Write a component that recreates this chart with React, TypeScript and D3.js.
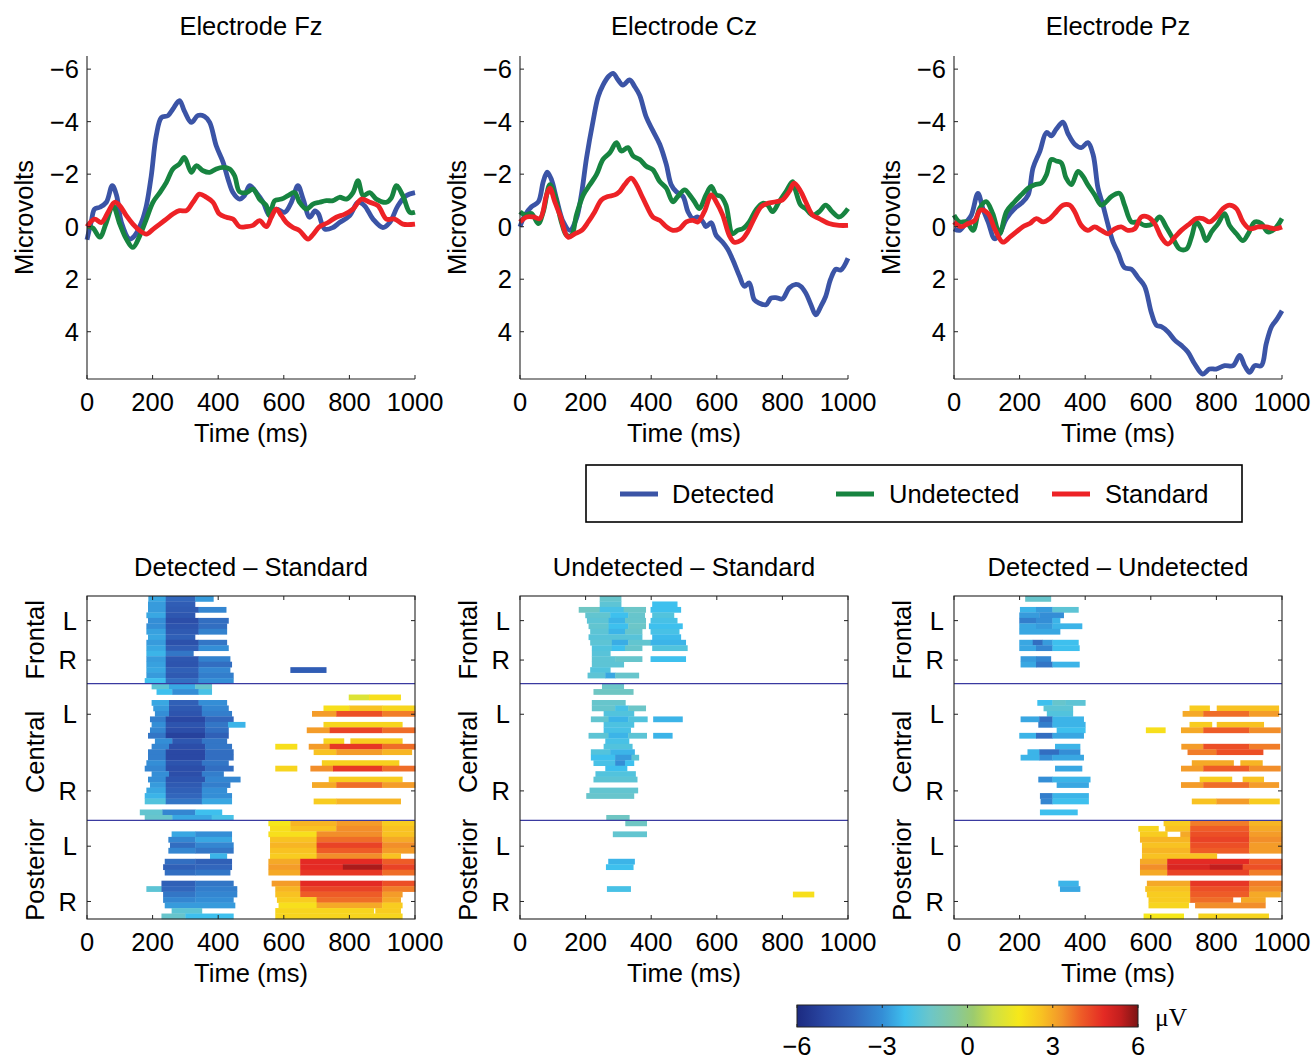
import React from "react";
import * as d3 from "d3";

type Pt = [number, number];
type Seg = [number, number, number];

// ---------- labels / ticks ----------
const TIME_TICKS = [0, 200, 400, 600, 800, 1000];
const UV_TICKS = [-6, -4, -2, 0, 2, 4];
const ELECTRODE_TITLES = ["Electrode Fz", "Electrode Cz", "Electrode Pz"];
const CONDITIONS = ["Detected", "Undetected", "Standard"];
const DIFF_TITLES = ["Detected – Standard", "Undetected – Standard", "Detected – Undetected"];
const REGIONS = ["Frontal", "Central", "Posterior"];
const REGION_ROWS = [16, 25, 18];
const SIDE_TICK_ROWS = [4.5, 11.7, 21.6, 35.6, 45.7, 55.8];
const SIDE_TICK_LABELS = ["L", "R", "L", "R", "L", "R"];
const CBAR_TICKS = [-6, -3, 0, 3, 6];

// ---------- ERP waveforms: [ms, µV] ----------
const FZ_DETECTED: Pt[] = [[0,0.5],[13,-0.2],[23,-0.67],[39,-0.74],[59,-0.93],[77,-1.56],[90,-1.2],[105,-0.16],[130,0.47],[145,0.35],[166,-0.16],[181,-0.8],[196,-1.94],[211,-3.46],[227,-4.16],[247,-4.23],[262,-4.48],[282,-4.8],[297,-4.4],[318,-3.97],[338,-4.23],[358,-4.2],[374,-3.97],[394,-3.08],[415,-2.45],[430,-1.81],[445,-1.3],[465,-1.05],[480,-1.18],[496,-1.56],[516,-1.3],[537,-0.93],[557,-0.42],[577,-0.67],[603,-0.55],[623,-0.93],[643,-1.56],[659,-1.05],[679,-0.36],[695,-0.6],[705,-0.5],[725,0.09],[750,0.03],[770,-0.16],[801,-0.42],[826,-0.93],[846,-0.8],[872,-0.29],[902,0.03],[923,-0.16],[948,-0.8],[973,-1.18],[1000,-1.3]];
const FZ_UNDETECTED: Pt[] = [[0,0],[18,0.05],[39,0.4],[59,-0.16],[79,-0.8],[100,-0.1],[120,0.47],[140,0.79],[161,0.34],[181,-0.29],[201,-0.93],[222,-1.3],[242,-1.69],[262,-2.2],[282,-2.39],[297,-2.64],[318,-2.07],[333,-2.32],[354,-2.13],[374,-2.07],[394,-2.2],[415,-2.26],[435,-2.2],[450,-1.94],[465,-1.33],[486,-1.3],[506,-1.43],[526,-1.05],[547,-0.8],[557,-0.42],[572,-0.99],[593,-1.05],[613,-1.18],[633,-1.3],[648,-0.93],[669,-0.67],[689,-0.86],[709,-0.93],[730,-0.99],[750,-0.99],[770,-1.12],[791,-1.05],[811,-1.3],[826,-1.75],[842,-1.18],[862,-1.3],[882,-1.05],[913,-0.93],[928,-1.1],[943,-1.56],[963,-1.18],[984,-0.55],[1000,-0.55]];
const FZ_STANDARD: Pt[] = [[0,0],[23,-0.29],[44,-0.16],[64,-0.55],[84,-0.93],[100,-0.8],[120,-0.42],[140,-0.1],[161,0.15],[181,0.28],[201,0.1],[222,-0.1],[242,-0.29],[262,-0.48],[282,-0.61],[303,-0.61],[323,-0.93],[343,-1.24],[364,-1.12],[384,-0.93],[404,-0.48],[425,-0.36],[445,-0.29],[465,0],[486,0],[506,-0.05],[526,-0.23],[547,0],[562,-0.36],[577,-0.67],[593,-0.42],[608,-0.16],[628,0.03],[648,0.15],[674,0.47],[689,0.3],[709,0],[735,-0.16],[760,-0.36],[786,-0.48],[811,-0.67],[837,-1.05],[862,-0.93],[887,-0.8],[913,-0.29],[938,-0.29],[963,-0.1],[1000,-0.1]];

const CZ_DETECTED: Pt[] = [[0,0],[15,-0.44],[35,-0.76],[56,-0.95],[71,-1.72],[83,-2.08],[96,-1.79],[111,-1.08],[132,-0.18],[152,0.14],[172,-0.31],[187,-1.21],[203,-2.63],[223,-4.04],[238,-4.94],[253,-5.39],[269,-5.71],[284,-5.84],[299,-5.59],[314,-5.39],[334,-5.59],[350,-5.33],[365,-5.0],[385,-4.17],[405,-3.66],[426,-3.14],[446,-2.37],[461,-1.6],[476,-1.34],[497,-1.15],[512,-0.57],[527,-0.31],[542,-0.37],[558,-0.18],[567,0],[583,-0.15],[598,0.33],[618,0.59],[633,0.85],[648,1.24],[669,1.88],[684,2.27],[699,2.14],[714,2.78],[729,2.91],[750,2.97],[765,2.72],[780,2.7],[800,2.75],[821,2.33],[841,2.2],[856,2.27],[871,2.52],[887,2.97],[902,3.36],[917,3.04],[932,2.65],[947,2.0],[963,1.62],[978,1.65],[1000,1.2]];
const CZ_UNDETECTED: Pt[] = [[0,-0.57],[15,-0.45],[35,-0.5],[56,-0.12],[71,-0.57],[91,-1.6],[106,-1.21],[126,-0.18],[142,0.33],[157,0.33],[172,-0.44],[193,-1.21],[213,-1.6],[233,-1.98],[253,-2.56],[274,-2.82],[294,-3.2],[309,-2.88],[329,-3.01],[345,-2.69],[365,-2.56],[385,-2.3],[405,-2.17],[426,-1.72],[446,-1.47],[466,-0.95],[481,-1.15],[502,-1.4],[517,-1.21],[532,-0.95],[547,-0.69],[567,-1.21],[583,-1.53],[598,-1.21],[613,-1.15],[628,-0.82],[648,0.27],[663,0.14],[679,0.08],[699,-0.18],[719,-0.63],[740,-0.89],[755,-0.82],[770,-0.57],[790,-0.95],[811,-1.34],[831,-1.72],[841,-1.34],[856,-0.82],[871,-0.69],[892,-0.44],[912,-0.57],[932,-0.82],[952,-0.57],[973,-0.37],[1000,-0.69]];
const CZ_STANDARD: Pt[] = [[0,-0.18],[20,-0.37],[41,-0.37],[61,-0.31],[81,-1.21],[91,-1.47],[106,-0.95],[122,-0.44],[147,0.4],[167,0.27],[188,0.14],[208,-0.18],[228,-0.57],[248,-1.02],[268,-1.15],[289,-1.21],[304,-1.34],[319,-1.6],[339,-1.85],[355,-1.6],[370,-1.21],[390,-0.69],[405,-0.37],[426,-0.24],[446,0],[466,0.14],[486,0.08],[507,-0.18],[527,-0.24],[542,-0.18],[562,-0.57],[583,-1.21],[598,-0.95],[618,-0.44],[638,0.33],[653,0.59],[674,0.52],[694,0.2],[714,-0.31],[735,-0.76],[755,-0.89],[780,-0.95],[800,-1.02],[821,-1.34],[836,-1.66],[856,-1.34],[871,-0.95],[892,-0.44],[912,-0.31],[942,-0.12],[973,-0.05],[1000,-0.05]];

const PZ_DETECTED: Pt[] = [[0,0.08],[17,0.14],[38,-0.18],[53,-0.44],[73,-1.27],[88,-0.69],[104,-0.18],[124,0.46],[139,0.27],[160,-0.31],[185,-0.69],[205,-0.89],[226,-1.21],[241,-2.24],[262,-2.88],[282,-3.59],[297,-3.46],[312,-3.72],[332,-3.98],[348,-3.53],[368,-3.14],[388,-3.01],[408,-3.2],[424,-2.75],[439,-1.47],[454,-0.82],[470,-0.05],[485,0.59],[500,0.98],[520,1.56],[541,1.62],[561,1.94],[581,2.27],[602,3.29],[617,3.75],[632,3.81],[652,4.0],[673,4.32],[693,4.52],[713,4.77],[734,5.23],[758,5.61],[779,5.42],[799,5.42],[825,5.29],[851,5.29],[871,4.9],[886,5.29],[901,5.55],[917,5.29],[937,5.29],[952,4.45],[968,3.81],[983,3.55],[1000,3.2]];
const PZ_UNDETECTED: Pt[] = [[0,-0.44],[17,-0.18],[38,-0.18],[58,0.14],[78,-0.69],[98,-0.95],[118,-0.5],[139,0.27],[160,-0.57],[185,-0.95],[205,-1.21],[226,-1.47],[246,-1.6],[266,-1.66],[282,-1.98],[297,-2.56],[312,-2.5],[327,-2.43],[342,-1.85],[358,-1.6],[378,-2.11],[393,-1.92],[408,-1.6],[429,-1.21],[449,-0.82],[464,-0.95],[480,-1.15],[505,-1.27],[520,-0.82],[541,-0.18],[561,-0.18],[581,-0.05],[607,-0.12],[627,-0.37],[647,0.01],[668,0.46],[688,0.85],[709,0.85],[724,0.4],[739,-0.18],[754,0.08],[769,0.53],[785,0.2],[805,-0.12],[825,-0.5],[840,-0.05],[861,0.27],[881,0.53],[897,0.27],[917,-0.18],[937,-0.12],[957,0.2],[978,0.08],[1000,-0.31]];
const PZ_STANDARD: Pt[] = [[0,-0.18],[22,0],[43,-0.12],[63,-0.24],[81,-0.63],[104,-0.5],[124,0.08],[149,0.59],[170,0.4],[190,0.2],[210,0],[231,-0.12],[251,-0.31],[272,-0.18],[292,-0.31],[312,-0.57],[332,-0.82],[353,-0.82],[368,-0.57],[388,-0.05],[408,0.14],[429,0.01],[449,0.14],[470,0.27],[490,0.08],[510,0.01],[530,0.14],[551,0.08],[571,-0.37],[591,-0.37],[612,-0.12],[632,0.4],[652,0.66],[673,0.4],[693,0.14],[719,-0.12],[739,-0.31],[759,-0.31],[779,-0.18],[799,-0.37],[820,-0.69],[840,-0.82],[861,-0.69],[881,-0.18],[902,0.08],[927,0.01],[952,0.01],[978,0.08],[1000,0.01]];

// ---------- Significant-difference maps: per channel row, [from ms, to ms, µV] ----------
const DET_STD_ROWS: Seg[][] = [
  [[187,240,-2.6],[240,330,-4.0],[330,385,-2.8]],
  [[186,240,-2.8],[240,329,-4.3]],
  [[186,240,-2.8],[240,340,-4.4],[340,424,-3.2]],
  [[181,240,-2.6],[240,329,-4.5]],
  [[186,240,-3.0],[240,340,-4.8],[340,431,-3.8]],
  [[181,240,-3.0],[240,340,-4.6],[340,426,-3.8]],
  [[181,240,-2.7],[240,340,-4.4],[340,426,-3.3]],
  [[186,240,-2.6],[240,329,-4.2]],
  [[181,240,-2.8],[240,340,-4.7],[340,426,-3.6]],
  [[181,240,-2.6],[240,340,-4.3],[340,431,-3.0]],
  [[181,240,-2.4],[240,324,-3.6]],
  [[181,240,-2.8],[240,340,-4.5],[340,436,-3.3]],
  [[181,240,-2.7],[240,340,-4.6],[340,441,-3.8]],
  [[181,240,-2.6],[240,340,-4.2],[340,436,-3.2],[620,729,-4.3]],
  [[181,240,-2.8],[240,340,-4.4],[340,446,-3.4]],
  [[176,240,-2.2],[240,340,-3.8],[340,446,-3.0]],
  [[197,250,-1.6],[250,330,-2.6],[330,380,-1.4]],
  [[212,260,-2.2],[260,340,-3.0],[340,380,-2.0]],
  [[798,860,1.2],[860,956,2.0]],
  [[197,250,-2.6],[250,340,-4.2],[340,426,-3.0]],
  [[202,250,-2.8],[250,350,-4.4],[350,431,-3.2],[721,800,2.0],[800,900,2.6],[900,1000,2.2]],
  [[207,250,-3.0],[250,350,-4.6],[350,441,-3.4],[686,760,3.2],[760,900,4.2],[900,1000,3.6]],
  [[192,240,-3.4],[240,360,-5.0],[360,446,-4.0]],
  [[197,240,-3.0],[240,360,-4.6],[360,430,-3.6],[430,482,-2.4],[721,961,2.2]],
  [[192,240,-3.2],[240,360,-4.8],[360,431,-3.8],[670,740,3.2],[740,900,4.4],[900,1000,3.8]],
  [[186,240,-3.6],[240,360,-5.2],[360,431,-4.2]],
  [[207,260,-3.0],[260,350,-4.5],[350,426,-3.6],[721,783,2.2],[803,961,2.4]],
  [[197,250,-3.2],[250,360,-4.8],[360,441,-3.6],[574,640,2.0],[676,740,3.2],[740,900,4.6],[900,1000,3.8]],
  [[186,240,-3.4],[240,360,-5.0],[360,446,-3.8],[691,760,2.6],[760,900,3.2],[900,990,2.8]],
  [[186,240,-3.4],[240,360,-5.0],[360,446,-3.8]],
  [[181,240,-3.0],[240,350,-4.6],[350,431,-3.6],[716,951,2.3]],
  [[176,240,-3.2],[240,360,-4.8],[360,446,-3.8],[574,640,2.2],[681,750,3.4],[750,900,4.6],[900,1000,3.8]],
  [[197,250,-3.0],[250,350,-4.8],[350,416,-3.4]],
  [[186,240,-3.0],[240,360,-4.6],[360,467,-3.2],[737,961,2.4]],
  [[192,240,-2.8],[240,350,-4.4],[350,436,-3.4],[686,760,3.0],[760,900,3.8],[900,1000,3.2]],
  [[181,240,-2.6],[240,350,-4.2],[350,426,-3.0]],
  [[176,240,-2.4],[240,350,-4.0],[350,441,-3.0]],
  [[176,240,-1.8],[240,350,-3.6],[350,441,-2.6],[691,760,2.4],[760,956,2.8]],
  [],
  [[161,230,-1.5],[230,330,-3.2],[330,411,-2.2]],
  [[176,260,-1.4],[260,380,-2.6],[380,446,-2.0]],
  [[553,620,1.8],[620,760,2.8],[760,900,3.2],[900,1000,2.4]],
  [[558,620,2.0],[620,760,2.6],[760,900,3.4],[900,1000,2.6]],
  [[258,330,-2.6],[330,441,-3.0],[553,700,2.0],[700,900,3.4],[900,1000,2.6]],
  [[248,330,-3.2],[330,441,-2.6],[558,700,2.6],[700,900,3.8],[900,1000,3.0]],
  [[253,330,-3.8],[330,446,-3.2],[558,700,2.8],[700,900,4.4],[900,1000,3.4]],
  [[248,330,-3.2],[330,446,-3.6],[558,700,2.6],[700,900,4.0],[900,1000,3.2]],
  [[375,426,-2.4],[558,700,2.4],[700,900,3.4],[900,956,2.6]],
  [[237,330,-3.8],[330,441,-4.2],[553,650,3.0],[650,900,4.8],[900,1000,4.0]],
  [[232,330,-4.2],[330,441,-4.0],[553,650,3.2],[650,780,4.8],[780,900,5.6],[900,1000,4.4]],
  [[237,330,-3.8],[330,436,-3.6],[553,650,3.0],[650,900,4.6],[900,1000,3.8]],
  [],
  [[227,330,-4.2],[330,446,-3.6],[563,650,3.2],[650,900,4.8],[900,1000,4.2]],
  [[181,227,-1.6],[227,330,-4.0],[330,457,-3.4],[574,650,2.8],[650,900,4.4],[900,1000,3.6]],
  [[232,330,-3.6],[330,457,-3.2],[574,650,2.6],[650,900,4.0],[900,961,3.2]],
  [[232,330,-3.2],[330,446,-3.0],[579,700,2.4],[700,900,3.8],[900,956,3.0]],
  [[237,451,-2.8],[584,700,2.0],[700,900,3.0],[900,961,2.4]],
  [[258,350,-1.6],[574,874,2.2],[879,956,2.4]],
  [[227,300,-1.4],[300,446,-2.2],[574,961,2.2]],
];

const UND_STD_ROWS: Seg[][] = [
  [[243,308,-1.4]],
  [[243,308,-1.6],[403,479,-2.2]],
  [[179,243,-1.2],[243,316,-2.0],[316,383,-1.3],[398,490,-2.2]],
  [[199,275,-1.5],[275,330,-2.2],[330,380,-1.4],[403,469,-1.8]],
  [[204,270,-1.6],[270,320,-2.4],[320,383,-1.4],[398,479,-2.0]],
  [[209,270,-1.5],[270,330,-2.2],[330,383,-1.3],[393,495,-2.2]],
  [[214,270,-1.6],[270,320,-2.4],[320,372,-1.4],[398,485,-2.0]],
  [[209,372,-1.7],[403,490,-2.3]],
  [[214,280,-1.6],[280,330,-2.5],[330,398,-1.5],[398,505,-2.4]],
  [[219,280,-1.8],[280,320,-2.2],[320,372,-1.4],[403,510,-1.8]],
  [[219,275,-1.7]],
  [[219,290,-1.6],[290,372,-1.4],[398,505,-2.2]],
  [[219,316,-1.6]],
  [[214,275,-1.8]],
  [[206,260,-1.6],[260,290,-2.6],[290,362,-1.4]],
  [],
  [[250,316,-1.3]],
  [[224,345,-1.2]],
  [],
  [[219,321,-1.4]],
  [[219,290,-1.4],[290,330,-2.0],[330,383,-1.3]],
  [[255,347,-1.8]],
  [[216,270,-1.5],[270,330,-2.4],[330,388,-1.8],[406,495,-2.4]],
  [[255,347,-1.9]],
  [[255,337,-2.0]],
  [[209,270,-1.6],[270,330,-2.4],[330,386,-1.6],[406,464,-2.4]],
  [[260,332,-2.0]],
  [[255,342,-1.8]],
  [[216,275,-1.8],[275,349,-2.4]],
  [[216,290,-2.2],[290,340,-2.8],[340,362,-1.6]],
  [[224,290,-2.0],[290,320,-3.0],[320,347,-2.2]],
  [[260,326,-2.2]],
  [[230,352,-1.8]],
  [[224,357,-1.6]],
  [],
  [[212,359,-1.5]],
  [[202,347,-1.4]],
  [],
  [],
  [],
  [[263,333,-1.2]],
  [[321,386,-1.2]],
  [],
  [[283,386,-1.5]],
  [],
  [],
  [],
  [],
  [[269,349,-2.4]],
  [[262,345,-2.2]],
  [],
  [],
  [],
  [[265,337,-2.0]],
  [[832,896,2.0]],
  [],
  [],
  [],
  [],
];

const DET_UND_ROWS: Seg[][] = [
  [[217,295,-1.4]],
  [],
  [[201,250,-2.4],[250,300,-2.8],[300,379,-1.6]],
  [[199,260,-2.8],[260,334,-3.0]],
  [[199,250,-3.4],[250,300,-3.0],[300,323,-2.4]],
  [[199,250,-2.6],[250,300,-2.8],[300,390,-2.4]],
  [[199,323,-2.6]],
  [],
  [[199,240,-2.6],[240,270,-3.8],[270,300,-2.8],[300,379,-2.2]],
  [[199,250,-2.6],[250,300,-3.2],[300,382,-2.2]],
  [],
  [[203,250,-2.8],[250,295,-3.2]],
  [[203,250,-2.6],[250,300,-3.6],[300,382,-2.4]],
  [],
  [],
  [],
  [],
  [],
  [],
  [[254,300,-2.2],[300,340,-1.4],[340,400,-1.6]],
  [[273,362,-1.6],[718,779,2.4],[801,990,2.6]],
  [[283,362,-1.8],[697,760,3.0],[760,900,3.8],[900,990,3.2]],
  [[203,260,-2.6],[260,300,-3.8],[300,395,-2.4]],
  [[257,300,-3.4],[300,400,-2.4],[718,786,2.4],[801,944,2.6]],
  [[313,400,-2.2],[585,644,2.0],[692,760,3.0],[760,900,4.0],[900,995,3.4]],
  [[199,250,-2.4],[250,300,-3.8],[300,395,-2.6]],
  [],
  [[308,384,-2.4],[693,760,3.2],[760,900,4.2],[900,993,3.6]],
  [[224,260,-2.4],[260,320,-3.8],[320,384,-3.0],[712,800,3.6],[800,942,4.2]],
  [[203,260,-2.4],[260,300,-3.0],[300,395,-2.6]],
  [[725,852,3.0],[873,940,2.8]],
  [[308,390,-2.6],[692,760,3.2],[760,900,4.0],[900,995,3.4]],
  [],
  [[257,300,-3.0],[300,415,-2.4],[749,847,2.4],[880,944,2.6]],
  [[313,410,-2.6],[692,760,3.2],[760,900,3.8],[900,990,3.2]],
  [],
  [[262,300,-3.4],[300,410,-2.4]],
  [[264,300,-3.2],[300,410,-2.2],[725,800,2.6],[800,900,3.2],[900,992,2.4]],
  [],
  [[262,376,-2.2]],
  [],
  [[639,720,2.4],[720,900,3.6],[900,1000,2.8]],
  [[562,623,2.2],[644,720,2.6],[720,900,4.0],[900,1000,3.0]],
  [[567,650,2.4],[690,720,3.0],[720,900,4.2],[900,1000,3.2]],
  [[567,720,2.8],[720,900,4.4],[900,1000,3.4]],
  [[573,720,2.6],[720,900,4.2],[900,1000,3.2]],
  [[573,720,2.8],[720,900,4.0],[900,1000,3.2]],
  [[573,801,2.6]],
  [[567,650,3.0],[650,900,4.8],[900,1000,4.0]],
  [[567,650,3.4],[650,780,5.0],[780,880,5.4],[880,1000,4.2]],
  [[567,650,3.0],[650,900,4.4],[900,1000,3.6]],
  [],
  [[318,379,-2.4],[588,720,3.0],[720,900,4.6],[900,1000,3.6]],
  [[323,384,-2.6],[583,720,2.6],[720,900,4.2],[900,1000,3.4]],
  [[588,720,2.4],[720,900,4.0],[900,995,3.0]],
  [[593,720,2.4],[720,850,3.8],[875,949,3.0]],
  [[593,715,2.2],[735,949,3.4]],
  [],
  [[578,700,1.8],[745,959,2.2]],
];

// ---------- colormap (jet-like) ----------
const COLOR_STOPS = [-6, -5, -4, -3, -2.2, -1.3, -0.4, 0.2, 0.9, 1.8, 2.6, 3.3, 4.0, 4.8, 5.4, 6];
const COLOR_VALUES = ["#1c2a80", "#2a48a4", "#3266bc", "#348ed6", "#3ec0ee", "#6cc6c8", "#88c89a", "#9ccb6e", "#cfe044", "#f6e81a", "#f8c222", "#f3962a", "#ee5c27", "#e42a24", "#c21e1e", "#7c1414"];

const LINE_COLORS = ["#3b54a6", "#178440", "#ed2226"];

// ---------- layout ----------
const W = 1315;
const H = 1060;
const PANEL_X = [87, 520, 954];
const PANEL_W = 328;
const TOP_Y: [number, number] = [56, 379];
const HEAT_Y: [number, number] = [596, 919];
const FONT = "'Liberation Sans', Arial, Helvetica, sans-serif";
const FS = 25.5;

const WAVES: Pt[][][] = [
  [FZ_DETECTED, FZ_UNDETECTED, FZ_STANDARD],
  [CZ_DETECTED, CZ_UNDETECTED, CZ_STANDARD],
  [PZ_DETECTED, PZ_UNDETECTED, PZ_STANDARD],
];
const MAPS: Seg[][][] = [DET_STD_ROWS, UND_STD_ROWS, DET_UND_ROWS];

const fmt = (v: number) => (v < 0 ? "\u2212" + Math.abs(v) : String(v));

const color = d3
  .scaleLinear<string>()
  .domain(COLOR_STOPS)
  .range(COLOR_VALUES)
  .interpolate(d3.interpolateRgb)
  .clamp(true);

function WavePanel({ idx }: { idx: number }) {
  const x0 = PANEL_X[idx];
  const x = d3.scaleLinear().domain([0, 1000]).range([x0, x0 + PANEL_W]);
  const y = d3.scaleLinear().domain([-6.5, 5.8]).range(TOP_Y);
  const line = d3
    .line<Pt>()
    .x((d) => x(d[0]))
    .y((d) => y(d[1]))
    .curve(d3.curveCatmullRom.alpha(0.5));
  const cx = x0 + PANEL_W / 2;
  return (
    <g>
      <text x={cx} y={35} textAnchor="middle" fontSize={FS} fontFamily={FONT}>
        {ELECTRODE_TITLES[idx]}
      </text>
      {WAVES[idx].map((s, i) => (
        <path key={i} d={line(s) || ""} fill="none" stroke={LINE_COLORS[i]} strokeWidth={4.8} strokeLinejoin="round" />
      ))}
      <line x1={x0} x2={x0} y1={TOP_Y[0]} y2={TOP_Y[1]} stroke="#222" strokeWidth={1.1} />
      <line x1={x0} x2={x0 + PANEL_W} y1={TOP_Y[1]} y2={TOP_Y[1]} stroke="#222" strokeWidth={1.1} />
      {UV_TICKS.map((t) => (
        <g key={t}>
          <line x1={x0} x2={x0 + 4} y1={y(t)} y2={y(t)} stroke="#222" strokeWidth={1} />
          <text x={x0 - 8} y={y(t)} dy="0.35em" textAnchor="end" fontSize={FS} fontFamily={FONT}>
            {fmt(t)}
          </text>
        </g>
      ))}
      {TIME_TICKS.map((t) => (
        <g key={t}>
          <line x1={x(t)} x2={x(t)} y1={TOP_Y[1]} y2={TOP_Y[1] - 4} stroke="#222" strokeWidth={1} />
          <text x={x(t)} y={411} textAnchor="middle" fontSize={FS} fontFamily={FONT}>
            {t}
          </text>
        </g>
      ))}
      <text x={cx} y={442} textAnchor="middle" fontSize={FS} fontFamily={FONT}>
        Time (ms)
      </text>
      <text
        transform={`translate(${x0 - 54},${(TOP_Y[0] + TOP_Y[1]) / 2}) rotate(-90)`}
        textAnchor="middle"
        fontSize={FS}
        fontFamily={FONT}
      >
        Microvolts
      </text>
    </g>
  );
}

function HeatPanel({ idx }: { idx: number }) {
  const x0 = PANEL_X[idx];
  const nRows = d3.sum(REGION_ROWS);
  const x = d3.scaleLinear().domain([0, 1000]).range([x0, x0 + PANEL_W]).clamp(true);
  const y = d3.scaleLinear().domain([0, nRows]).range(HEAT_Y);
  const rows = MAPS[idx];
  const cx = x0 + PANEL_W / 2;
  const bounds = [0, REGION_ROWS[0], REGION_ROWS[0] + REGION_ROWS[1], nRows];
  return (
    <g>
      <text x={cx} y={576} textAnchor="middle" fontSize={FS} fontFamily={FONT}>
        {DIFF_TITLES[idx]}
      </text>
      {rows.map((segs, r) =>
        segs.map((s, k) => (
          <rect
            key={`${r}-${k}`}
            x={x(s[0])}
            y={y(r)}
            width={Math.max(0, x(s[1]) - x(s[0]) + 0.4)}
            height={y(r + 1) - y(r) + 0.3}
            fill={color(s[2])}
          />
        ))
      )}
      {[bounds[1], bounds[2]].map((b) => (
        <line key={b} x1={x0} x2={x0 + PANEL_W} y1={y(b)} y2={y(b)} stroke="#3a3aa0" strokeWidth={1.3} />
      ))}
      <rect x={x0} y={HEAT_Y[0]} width={PANEL_W} height={HEAT_Y[1] - HEAT_Y[0]} fill="none" stroke="#222" strokeWidth={1.1} />
      {TIME_TICKS.map((t) => (
        <g key={t}>
          <line x1={x(t)} x2={x(t)} y1={HEAT_Y[1]} y2={HEAT_Y[1] - 4} stroke="#222" />
          <line x1={x(t)} x2={x(t)} y1={HEAT_Y[0]} y2={HEAT_Y[0] + 4} stroke="#222" />
          <text x={x(t)} y={951} textAnchor="middle" fontSize={FS} fontFamily={FONT}>
            {t}
          </text>
        </g>
      ))}
      {SIDE_TICK_ROWS.map((r, i) => (
        <g key={i}>
          <line x1={x0} x2={x0 + 4} y1={y(r)} y2={y(r)} stroke="#222" />
          <line x1={x0 + PANEL_W} x2={x0 + PANEL_W - 4} y1={y(r)} y2={y(r)} stroke="#222" />
          <text x={x0 - 10} y={y(r)} dy="0.36em" textAnchor="end" fontSize={FS} fontFamily={FONT}>
            {SIDE_TICK_LABELS[i]}
          </text>
        </g>
      ))}
      {REGIONS.map((name, i) => (
        <text
          key={name}
          transform={`translate(${x0 - 43},${(y(bounds[i]) + y(bounds[i + 1])) / 2}) rotate(-90)`}
          textAnchor="middle"
          fontSize={FS}
          fontFamily={FONT}
        >
          {name}
        </text>
      ))}
      <text x={cx} y={982} textAnchor="middle" fontSize={FS} fontFamily={FONT}>
        Time (ms)
      </text>
    </g>
  );
}

function Legend() {
  const items = [
    { x: 620, tx: 672 },
    { x: 836, tx: 889 },
    { x: 1052, tx: 1105 },
  ];
  return (
    <g>
      <rect x={586} y={465} width={656} height={57} fill="#fff" stroke="#000" strokeWidth={1.6} />
      {CONDITIONS.map((c, i) => (
        <g key={c}>
          <line x1={items[i].x} x2={items[i].x + 38} y1={494} y2={494} stroke={LINE_COLORS[i]} strokeWidth={5} />
          <text x={items[i].tx} y={503} fontSize={FS} fontFamily={FONT}>
            {c}
          </text>
        </g>
      ))}
    </g>
  );
}

function ColorBar() {
  const cb = d3.scaleLinear().domain([-6, 6]).range([797, 1138]);
  const y0 = 1005;
  const y1 = 1027;
  return (
    <g>
      <defs>
        <linearGradient id="jetgrad" x1="0" x2="1" y1="0" y2="0">
          {COLOR_STOPS.map((s, i) => (
            <stop key={i} offset={`${((s + 6) / 12) * 100}%`} stopColor={COLOR_VALUES[i]} />
          ))}
        </linearGradient>
      </defs>
      <rect x={cb(-6)} y={y0} width={cb(6) - cb(-6)} height={y1 - y0} fill="url(#jetgrad)" stroke="#222" strokeWidth={1} />
      {CBAR_TICKS.map((t) => (
        <g key={t}>
          <line x1={cb(t)} x2={cb(t)} y1={y0} y2={y0 + 3} stroke="#222" />
          <line x1={cb(t)} x2={cb(t)} y1={y1} y2={y1 - 3} stroke="#222" />
          <text x={cb(t)} y={1055} textAnchor="middle" fontSize={FS} fontFamily={FONT}>
            {fmt(t)}
          </text>
        </g>
      ))}
      <text x={1155} y={1026} fontSize={FS} fontFamily="'Liberation Serif', 'Times New Roman', serif">
        μV
      </text>
    </g>
  );
}

export default function App() {
  return (
    <svg width={W} height={H} style={{ position: "absolute", left: 0, top: 0, background: "#fff" }}>
      <rect x={0} y={0} width={W} height={H} fill="#fff" />
      {[0, 1, 2].map((i) => (
        <WavePanel key={`w${i}`} idx={i} />
      ))}
      <Legend />
      {[0, 1, 2].map((i) => (
        <HeatPanel key={`h${i}`} idx={i} />
      ))}
      <ColorBar />
    </svg>
  );
}
